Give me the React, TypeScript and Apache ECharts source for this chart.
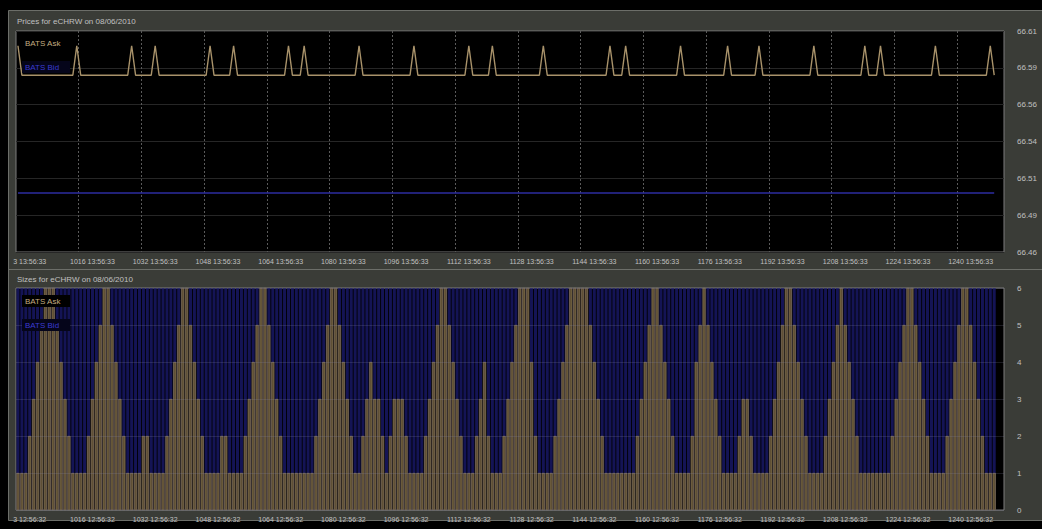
import React, { useEffect, useRef } from "react";
import * as echarts from "echarts";

const FONT = "'Liberation Sans', Arial, sans-serif";

const FIRST_INDEX = 997;
const CATEGORY_COUNT = 252;

const PRICE_TICK_LABELS = [
  "3 13:56:33", "1016 13:56:33", "1032 13:56:33", "1048 13:56:33", "1064 13:56:33", "1080 13:56:33",
  "1096 13:56:33", "1112 13:56:33", "1128 13:56:33", "1144 13:56:33", "1160 13:56:33", "1176 13:56:33",
  "1192 13:56:33", "1208 13:56:33", "1224 13:56:33", "1240 13:56:33",
];
const SIZE_TICK_LABELS = [
  "3 12:56:32", "1016 12:56:32", "1032 12:56:32", "1048 12:56:32", "1064 12:56:32", "1080 12:56:32",
  "1096 12:56:32", "1112 12:56:32", "1128 12:56:32", "1144 12:56:32", "1160 12:56:32", "1176 12:56:32",
  "1192 12:56:32", "1208 12:56:32", "1224 12:56:32", "1240 12:56:32",
];
const PRICE_AXIS_LABELS = ["66.46", "66.49", "66.51", "66.54", "66.56", "66.59", "66.61"];
const PRICE_BASE = 66.46;
const PRICE_STEP = 0.025;

const ASK_PRICE = [
  66.60, 66.58, 66.58, 66.58, 66.58, 66.58, 66.58, 66.58, 66.58, 66.58, 66.58, 66.58, 66.58, 66.58, 66.58, 66.60, 66.58, 66.58, 66.58, 66.58, 66.58, 66.58, 66.58, 66.58, 66.58,
  66.58, 66.58, 66.58, 66.58, 66.60, 66.58, 66.58, 66.58, 66.58, 66.58, 66.60, 66.58, 66.58, 66.58, 66.58, 66.58, 66.58, 66.58, 66.58, 66.58, 66.58, 66.58, 66.58, 66.58, 66.60,
  66.58, 66.58, 66.58, 66.58, 66.58, 66.60, 66.58, 66.58, 66.58, 66.58, 66.58, 66.58, 66.58, 66.58, 66.58, 66.58, 66.58, 66.58, 66.58, 66.60, 66.58, 66.58, 66.58, 66.60, 66.58,
  66.58, 66.58, 66.58, 66.58, 66.58, 66.58, 66.58, 66.58, 66.58, 66.58, 66.58, 66.58, 66.60, 66.58, 66.58, 66.58, 66.58, 66.58, 66.58, 66.58, 66.58, 66.58, 66.58, 66.58, 66.58,
  66.58, 66.60, 66.58, 66.58, 66.58, 66.58, 66.58, 66.58, 66.58, 66.58, 66.58, 66.58, 66.58, 66.58, 66.58, 66.60, 66.58, 66.58, 66.58, 66.58, 66.58, 66.60, 66.58, 66.58, 66.58,
  66.58, 66.58, 66.58, 66.58, 66.58, 66.58, 66.58, 66.58, 66.58, 66.60, 66.58, 66.58, 66.58, 66.58, 66.58, 66.58, 66.58, 66.58, 66.58, 66.58, 66.58, 66.58, 66.58, 66.58, 66.58,
  66.58, 66.60, 66.58, 66.58, 66.58, 66.60, 66.58, 66.58, 66.58, 66.58, 66.58, 66.58, 66.58, 66.58, 66.58, 66.58, 66.58, 66.58, 66.58, 66.60, 66.58, 66.58, 66.58, 66.58, 66.58,
  66.58, 66.58, 66.58, 66.58, 66.58, 66.58, 66.60, 66.58, 66.58, 66.58, 66.58, 66.58, 66.58, 66.58, 66.60, 66.58, 66.58, 66.58, 66.58, 66.58, 66.58, 66.58, 66.58, 66.58, 66.58,
  66.58, 66.58, 66.58, 66.60, 66.58, 66.58, 66.58, 66.58, 66.58, 66.58, 66.58, 66.58, 66.58, 66.58, 66.58, 66.58, 66.60, 66.58, 66.58, 66.58, 66.60, 66.58, 66.58, 66.58, 66.58,
  66.58, 66.58, 66.58, 66.58, 66.58, 66.58, 66.58, 66.58, 66.58, 66.60, 66.58, 66.58, 66.58, 66.58, 66.58, 66.58, 66.58, 66.58, 66.58, 66.58, 66.58, 66.58, 66.58, 66.60, 66.58,
];

const BID_PRICE = [
  66.50, 66.50, 66.50, 66.50, 66.50, 66.50, 66.50, 66.50, 66.50, 66.50, 66.50, 66.50, 66.50, 66.50, 66.50, 66.50, 66.50, 66.50, 66.50, 66.50, 66.50, 66.50, 66.50, 66.50, 66.50,
  66.50, 66.50, 66.50, 66.50, 66.50, 66.50, 66.50, 66.50, 66.50, 66.50, 66.50, 66.50, 66.50, 66.50, 66.50, 66.50, 66.50, 66.50, 66.50, 66.50, 66.50, 66.50, 66.50, 66.50, 66.50,
  66.50, 66.50, 66.50, 66.50, 66.50, 66.50, 66.50, 66.50, 66.50, 66.50, 66.50, 66.50, 66.50, 66.50, 66.50, 66.50, 66.50, 66.50, 66.50, 66.50, 66.50, 66.50, 66.50, 66.50, 66.50,
  66.50, 66.50, 66.50, 66.50, 66.50, 66.50, 66.50, 66.50, 66.50, 66.50, 66.50, 66.50, 66.50, 66.50, 66.50, 66.50, 66.50, 66.50, 66.50, 66.50, 66.50, 66.50, 66.50, 66.50, 66.50,
  66.50, 66.50, 66.50, 66.50, 66.50, 66.50, 66.50, 66.50, 66.50, 66.50, 66.50, 66.50, 66.50, 66.50, 66.50, 66.50, 66.50, 66.50, 66.50, 66.50, 66.50, 66.50, 66.50, 66.50, 66.50,
  66.50, 66.50, 66.50, 66.50, 66.50, 66.50, 66.50, 66.50, 66.50, 66.50, 66.50, 66.50, 66.50, 66.50, 66.50, 66.50, 66.50, 66.50, 66.50, 66.50, 66.50, 66.50, 66.50, 66.50, 66.50,
  66.50, 66.50, 66.50, 66.50, 66.50, 66.50, 66.50, 66.50, 66.50, 66.50, 66.50, 66.50, 66.50, 66.50, 66.50, 66.50, 66.50, 66.50, 66.50, 66.50, 66.50, 66.50, 66.50, 66.50, 66.50,
  66.50, 66.50, 66.50, 66.50, 66.50, 66.50, 66.50, 66.50, 66.50, 66.50, 66.50, 66.50, 66.50, 66.50, 66.50, 66.50, 66.50, 66.50, 66.50, 66.50, 66.50, 66.50, 66.50, 66.50, 66.50,
  66.50, 66.50, 66.50, 66.50, 66.50, 66.50, 66.50, 66.50, 66.50, 66.50, 66.50, 66.50, 66.50, 66.50, 66.50, 66.50, 66.50, 66.50, 66.50, 66.50, 66.50, 66.50, 66.50, 66.50, 66.50,
  66.50, 66.50, 66.50, 66.50, 66.50, 66.50, 66.50, 66.50, 66.50, 66.50, 66.50, 66.50, 66.50, 66.50, 66.50, 66.50, 66.50, 66.50, 66.50, 66.50, 66.50, 66.50, 66.50, 66.50, 66.50,
];

const ASK_SIZE = [
  1, 1, 1, 2, 3, 4, 5, 6, 6, 6, 5, 4, 3, 2, 1, 1, 1, 1, 2, 3, 4, 5, 6, 6, 5,
  4, 3, 2, 1, 1, 1, 1, 2, 2, 1, 1, 1, 1, 2, 3, 4, 5, 6, 6, 5, 4, 3, 2, 1, 1,
  1, 1, 2, 2, 1, 1, 1, 1, 2, 3, 4, 5, 6, 6, 5, 4, 3, 2, 1, 1, 1, 1, 1, 1, 1,
  1, 2, 3, 4, 5, 6, 6, 5, 4, 3, 2, 1, 1, 2, 3, 4, 3, 3, 2, 1, 2, 3, 3, 3, 2,
  1, 1, 1, 1, 2, 3, 4, 5, 6, 6, 5, 4, 3, 2, 1, 1, 1, 2, 3, 4, 2, 1, 1, 1, 2,
  3, 4, 5, 6, 6, 6, 4, 2, 1, 1, 1, 1, 2, 3, 4, 5, 6, 6, 6, 6, 6, 5, 4, 3, 2,
  1, 1, 1, 1, 1, 1, 1, 1, 2, 3, 4, 5, 6, 6, 5, 4, 3, 2, 1, 1, 1, 1, 2, 4, 5,
  6, 5, 4, 3, 2, 1, 1, 1, 1, 2, 3, 3, 2, 1, 1, 1, 1, 2, 3, 4, 5, 6, 6, 5, 4,
  3, 2, 1, 1, 1, 1, 2, 3, 4, 5, 6, 5, 4, 3, 2, 1, 1, 1, 1, 1, 1, 1, 1, 2, 3,
  4, 5, 6, 6, 5, 4, 3, 2, 1, 1, 1, 1, 2, 3, 4, 5, 6, 6, 5, 4, 3, 2, 1, 1, 1,
];

const BID_SIZE = [
  6, 6, 6, 6, 6, 6, 6, 6, 6, 6, 6, 6, 6, 6, 6, 6, 6, 6, 6, 6, 6, 6, 6, 6, 6,
  6, 6, 6, 6, 6, 6, 6, 6, 6, 6, 6, 6, 6, 6, 6, 6, 6, 6, 6, 6, 6, 6, 6, 6, 6,
  6, 6, 6, 6, 6, 6, 6, 6, 6, 6, 6, 6, 6, 6, 6, 6, 6, 6, 6, 6, 6, 6, 6, 6, 6,
  6, 6, 6, 6, 6, 6, 6, 6, 6, 6, 6, 6, 6, 6, 6, 6, 6, 6, 6, 6, 6, 6, 6, 6, 6,
  6, 6, 6, 6, 6, 6, 6, 6, 6, 6, 6, 6, 6, 6, 6, 6, 6, 6, 6, 6, 6, 6, 6, 6, 6,
  6, 6, 6, 6, 6, 6, 6, 6, 6, 6, 6, 6, 6, 6, 6, 6, 6, 6, 6, 6, 6, 6, 6, 6, 6,
  6, 6, 6, 6, 6, 6, 6, 6, 6, 6, 6, 6, 6, 6, 6, 6, 6, 6, 6, 6, 6, 6, 6, 6, 6,
  6, 6, 6, 6, 6, 6, 6, 6, 6, 6, 6, 6, 6, 6, 6, 6, 6, 6, 6, 6, 6, 6, 6, 6, 6,
  6, 6, 6, 6, 6, 6, 6, 6, 6, 6, 6, 6, 6, 6, 6, 6, 6, 6, 6, 6, 6, 6, 6, 6, 6,
  6, 6, 6, 6, 6, 6, 6, 6, 6, 6, 6, 6, 6, 6, 6, 6, 6, 6, 6, 6, 6, 6, 6, 6, 6,
];

const PANEL = "#3a3c37";
const EDGE = "#6c6e69";
const TEXT = "#c0c0c0";
const ASK_COLOR = "#a8926a";
const BID_COLOR = "#2c2ca0";

export default function App() {
  const ref = useRef<HTMLDivElement>(null);

  useEffect(() => {
    document.body.style.margin = "0";
    document.body.style.background = "#000";
    if (!ref.current) return;
    const chart = echarts.init(ref.current, undefined, { renderer: "svg" });

    const categories: string[] = [];
    for (let i = 0; i < CATEGORY_COUNT; i++) categories.push(String(FIRST_INDEX + i));

    const labelInterval = (index: number) => index >= 3 && (index - 3) % 16 === 0;
    const gridInterval = (index: number) => index > 0 && index % 16 === 0;

    const xBase = (gridIndex: number, labels: string[]) => ({
      type: "category",
      gridIndex,
      data: categories,
      boundaryGap: true,
      axisLine: { show: false },
      axisTick: { show: false },
      axisLabel: {
        interval: labelInterval,
        formatter: (_v: string, index: number) => labels[Math.round((index - 3) / 16)] ?? "",
        color: TEXT,
        fontSize: 7,
        fontFamily: FONT,
        margin: 6,
      },
      splitLine: {
        show: gridIndex === 0,
        interval: gridInterval,
        lineStyle: { color: "#5a5a5a", type: [2, 2], width: 1 },
      },
    });

    const legendBox = (y: number) => [
      { type: "rect", z: 50, shape: { x: 22, y: y - 6, width: 48, height: 12 }, style: { fill: "#000" } },
      {
        type: "text", z: 51, x: 25, y,
        style: { text: "BATS Ask", fill: "#c4ad80", font: `8px ${FONT}`, textVerticalAlign: "middle" },
      },
      { type: "rect", z: 50, shape: { x: 22, y: y + 18, width: 48, height: 12 }, style: { fill: "#05051a" } },
      {
        type: "text", z: 51, x: 25, y: y + 24,
        style: { text: "BATS Bid", fill: "#3a3ad2", font: `8px ${FONT}`, textVerticalAlign: "middle" },
      },
    ];

    const option: any = {
      animation: false,
      backgroundColor: "#000",
      textStyle: { fontFamily: FONT },
      graphic: [
        { type: "rect", z: -10, shape: { x: 8.5, y: 10.5, width: 1040, height: 510 }, style: { fill: PANEL, stroke: EDGE, lineWidth: 1 } },
        { type: "line", z: -9, shape: { x1: 9, y1: 269.5, x2: 1042, y2: 269.5 }, style: { stroke: EDGE, lineWidth: 1 } },
        {
          type: "text", z: 20, x: 17, y: 21,
          style: { text: "Prices for eCHRW on 08/06/2010", fill: TEXT, font: `8px ${FONT}`, textVerticalAlign: "middle" },
        },
        {
          type: "text", z: 20, x: 17, y: 279,
          style: { text: "Sizes for eCHRW on 08/06/2010", fill: TEXT, font: `8px ${FONT}`, textVerticalAlign: "middle" },
        },
        ...legendBox(43),
        ...legendBox(301),
      ],
      grid: [
        { left: 16, top: 31, width: 988, height: 221, show: true, backgroundColor: "#000", borderColor: "#7c7c7c", borderWidth: 1 },
        { left: 16, top: 288, width: 988, height: 222, show: true, backgroundColor: "#000", borderColor: "#7c7c7c", borderWidth: 1 },
      ],
      xAxis: [xBase(0, PRICE_TICK_LABELS), xBase(1, SIZE_TICK_LABELS)],
      yAxis: [
        {
          type: "value",
          gridIndex: 0,
          position: "right",
          min: 0,
          max: PRICE_STEP * 6,
          interval: PRICE_STEP,
          axisLine: { show: false },
          axisTick: { show: false },
          axisLabel: {
            color: TEXT,
            fontSize: 8,
            fontFamily: FONT,
            margin: 13,
            formatter: (v: number) => PRICE_AXIS_LABELS[Math.round(v / PRICE_STEP)] ?? "",
          },
          splitLine: { show: true, lineStyle: { color: "#262626", width: 1 } },
        },
        {
          type: "value",
          gridIndex: 1,
          position: "right",
          min: 0,
          max: 6,
          interval: 1,
          z: 5,
          axisLine: { show: false },
          axisTick: { show: false },
          axisLabel: { color: TEXT, fontSize: 8, fontFamily: FONT, margin: 13 },
          splitLine: { show: true, lineStyle: { color: "rgba(140,140,170,0.2)", width: 1 } },
        },
      ],
      series: [
        {
          name: "BATS Ask",
          type: "line",
          xAxisIndex: 0,
          yAxisIndex: 0,
          data: ASK_PRICE.map((p) => +(p - PRICE_BASE).toFixed(4)),
          symbol: "none",
          lineStyle: { color: ASK_COLOR, width: 1.4 },
          z: 3,
        },
        {
          name: "BATS Bid",
          type: "line",
          xAxisIndex: 0,
          yAxisIndex: 0,
          data: BID_PRICE.map((p) => +(p - PRICE_BASE).toFixed(4)),
          symbol: "none",
          lineStyle: { color: BID_COLOR, width: 1.4 },
          z: 3,
        },
        {
          name: "BATS Bid Size",
          type: "bar",
          xAxisIndex: 1,
          yAxisIndex: 1,
          data: BID_SIZE,
          barCategoryGap: "22%",
          barGap: "-100%",
          itemStyle: { color: "#141455" },
          z: 2,
        },
        {
          name: "BATS Ask Size",
          type: "bar",
          xAxisIndex: 1,
          yAxisIndex: 1,
          data: ASK_SIZE,
          barCategoryGap: "22%",
          barGap: "-100%",
          itemStyle: { color: "#5f5035", borderColor: "#9a875c", borderWidth: 0.5 },
          z: 3,
        },
      ],
    };

    chart.setOption(option);
    return () => chart.dispose();
  }, []);

  return (
    <div style={{ position: "fixed", left: 0, top: 0, width: 1042, height: 529, background: "#000" }}>
      <div ref={ref} style={{ width: 1042, height: 529 }} />
    </div>
  );
}
